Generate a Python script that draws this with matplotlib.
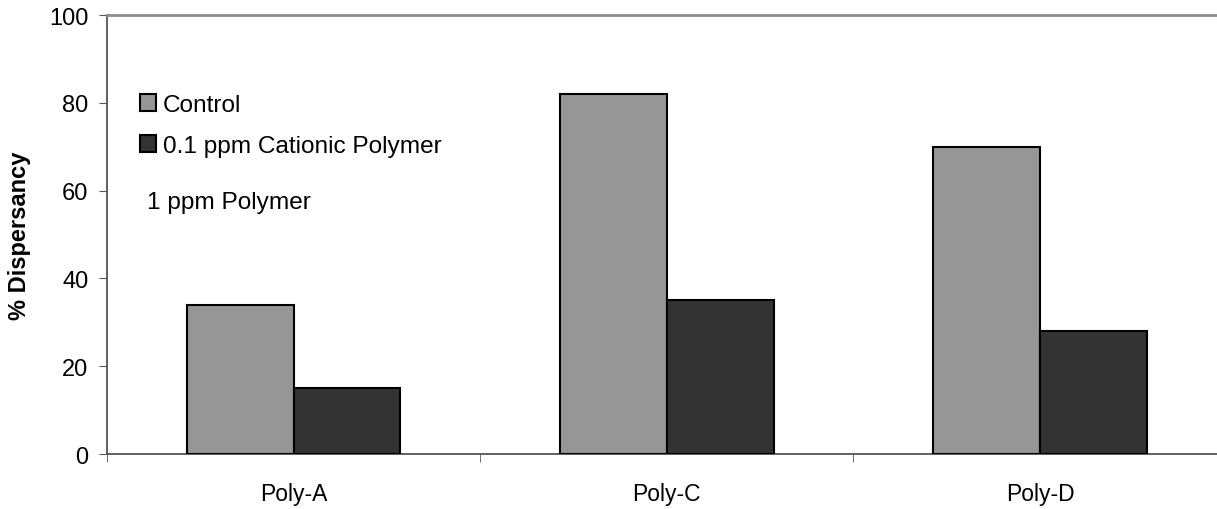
import numpy as np
import matplotlib
matplotlib.use('Agg')
import matplotlib.pyplot as plt
from matplotlib.patches import Patch

plt.rcParams['font.family'] = ['Liberation Sans', 'DejaVu Sans']

categories = ['Poly-A', 'Poly-C', 'Poly-D']
control = [34, 82, 70]
cationic = [15, 35, 28]
series_names = ['Control', '0.1 ppm Cationic Polymer']
yticks = [0, 20, 40, 60, 80, 100]

fig = plt.figure(figsize=(12.17, 5.10), dpi=100)
ax = fig.add_axes([107 / 1217, 1 - 455 / 510, 1 - 107 / 1217 + 0.008, (455 - 16) / 510])

x = np.arange(len(categories))
w = 0.2857
ax.bar(x - w / 2, control, w, color='#969696', edgecolor='black', linewidth=1.5, zorder=3)
ax.bar(x + w / 2, cationic, w, color='#333333', edgecolor='black', linewidth=1.5, zorder=3)

ax.set_xlim(-0.5, 2.5)
ax.set_ylim(0, 100)
ax.set_yticks(yticks)
ax.set_yticklabels([str(t) for t in yticks], fontsize=17)
ax.set_xticks(x)
ax.set_xticklabels(categories, fontsize=16.5)
ax.set_xticks([-0.5, 0.5, 1.5], minor=True)
ax.tick_params(axis='x', which='major', length=0, pad=20)
ax.tick_params(axis='x', which='minor', length=5.5, direction='out', color='#555555')
ax.tick_params(axis='y', length=5.8, direction='out', color='#555555', pad=7.5)

for s in ['left', 'bottom']:
    ax.spines[s].set_color('#555555')
    ax.spines[s].set_linewidth(1.3)
ax.spines['top'].set_color('#8c8c8c')
ax.spines['top'].set_linewidth(2)
ax.spines['right'].set_visible(False)

ax.set_ylabel('% Dispersancy', fontsize=17, fontweight='bold')
ax.yaxis.set_label_coords(-0.068, 0.5)

handles = [Patch(facecolor='#969696', edgecolor='black', linewidth=1.5),
           Patch(facecolor='#333333', edgecolor='black', linewidth=1.5)]
ax.legend(handles, series_names, loc='upper left', bbox_to_anchor=(0.0297, 0.82),
          frameon=False, fontsize=17.6, handlelength=0.65, handleheight=0.65,
          handletextpad=0.28, labelspacing=0.78, borderaxespad=0, borderpad=0)
ax.text(0.036, 0.574, '1 ppm Polymer', transform=ax.transAxes, fontsize=17.6, va='center')

fig.savefig('out.png', dpi=100)
